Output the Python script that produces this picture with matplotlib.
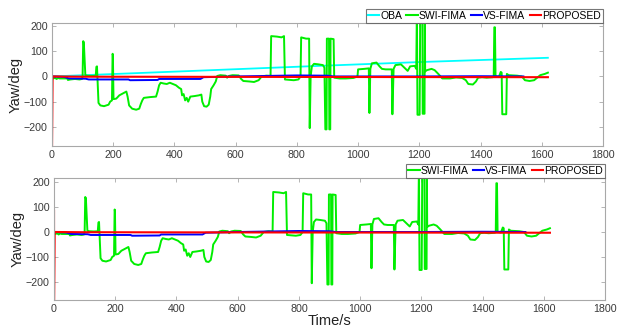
import matplotlib
matplotlib.use("Agg")
import matplotlib.pyplot as plt

# time (s) / yaw (deg) samples
swi_t = [0, 5, 10, 15, 20, 25, 50, 52, 60, 75, 90, 98, 100, 102, 104, 107, 109, 115, 130,
         143, 145, 147, 149, 152, 158, 170, 185, 190, 196, 198, 199, 201, 210, 220, 235, 243,
         247, 252, 262, 275, 285, 290, 295, 300, 320, 340, 345, 350, 355, 365, 375, 385, 395,
         405, 415, 422, 425, 430, 435, 440, 445, 452, 465, 480, 488, 491, 497, 505, 512, 517,
         520, 528, 535, 540, 550, 568, 572, 578, 590, 610, 618, 625, 645, 660, 675, 685, 700,
         714, 716, 735, 750, 758, 761, 790, 805, 812, 814, 830, 840, 842, 845, 849, 856, 870,
         885, 890, 893, 897, 898, 905, 906, 909, 910, 920, 922, 940, 960, 985, 998, 1000, 1020,
         1035, 1037, 1040, 1045, 1060, 1070, 1078, 1090, 1110, 1112, 1116, 1122, 1140, 1155,
         1162, 1170, 1185, 1190, 1192, 1194, 1201, 1203, 1210, 1211, 1217, 1218, 1219, 1225,
         1240, 1250, 1262, 1275, 1300, 1320, 1340, 1352, 1360, 1375, 1385, 1392, 1405, 1420,
         1440, 1443, 1445, 1447, 1449, 1460, 1466, 1469, 1471, 1480, 1484, 1486, 1492, 1520,
         1535, 1545, 1560, 1575, 1585, 1595, 1610, 1620]
swi_v = [-3, -8, -5, -10, -6, -8, -8, -14, -12, -10, -12, -10, 0, 140, 135, 60, 5, 3, 2,
         3, 38, 40, -20, -105, -115, -118, -112, -100, -95, 90, 85, -90, -88, -75, -65, -60,
         -80, -115, -128, -132, -128, -110, -95, -85, -82, -80, -60, -35, -25, -28, -30, -25, -30,
         -35, -45, -50, -75, -70, -95, -85, -100, -80, -78, -75, -72, -100, -118, -120, -112, -80,
         -50, -35, -20, 2, 5, 3, -5, 2, 5, 4, -10, -18, -20, -22, -15, 0, 3,
         2, 160, 158, 155, 160, -12, -15, -12, 0, 155, 150, 150, -205, 0, 40, 50, 48,
         45, 35, -210, -210, 150, 150, -210, -210, 150, 148, -5, -8, -8, -6, 0, 28, 30,
         32, -145, 30, 52, 55, 40, 30, 28, 28, -150, 30, 45, 48, 30,
         22, 40, 42, 30, 260, -152, -152, 260, 260, -148, -148, 260, 20, 25,
         30, 25, 10, -8, -8, -4, -6, -15, -30, -32, -20, -5, -3, -5,
         -3, 0, 195, 195, 0, -2, 18, 15, -150, -150, -150, 10, 5, 3,
         0, -15, -18, -15, -5, 5, 10, 15]

oba_t = [0, 420, 875, 1200, 1620]
oba_v = [0, 20, 42, 57, 74]

vs_t = [0, 40, 55, 110, 120, 250, 255, 345, 350, 485, 495, 600, 700, 800, 900, 920, 1000,
        1200, 1400, 1540]
vs_v = [0, -2, -8, -9, -12, -12, -15, -14, -10, -10, -3, 0, 2, 4, 3, 0, 0, 0, 1, 0]

prop_t = [0, 0, 2, 100, 800, 1620]
prop_v = [85, -300, 0, -1, -2, -3]

x_ticks = [0, 200, 400, 600, 800, 1000, 1200, 1400, 1600, 1800]
y_ticks = [-200, -100, 0, 100, 200]

plt.rcParams["font.family"] = ["Liberation Sans", "DejaVu Sans"]

fig = plt.figure(figsize=(6.21, 3.31), dpi=100)
fig.patch.set_facecolor("white")

ax1 = fig.add_axes([0.0837, 0.5589, 0.8873, 0.3716])
ax2 = fig.add_axes([0.0870, 0.0937, 0.8873, 0.3686])

spine_grey = "#a8a8a8"


def style_axes(ax, ylim):
    ax.set_xlim(0, 1800)
    ax.set_ylim(*ylim)
    ax.set_xticks(x_ticks)
    ax.set_yticks(y_ticks)
    ax.tick_params(direction="in", top=True, right=True, length=3, width=0.6,
                   color=spine_grey, labelcolor="#3a3a3a", labelsize=7.7, pad=3)
    for s in ax.spines.values():
        s.set_color(spine_grey)
        s.set_linewidth(0.8)
    ax.set_ylabel("Yaw/deg", fontsize=10.5, color="#222222", labelpad=1)


ax1.plot(oba_t, oba_v, color="#00ffff", lw=1.3, label="OBA")
for ax in (ax1, ax2):
    ax.plot(swi_t, swi_v, color="#00ee00", lw=1.4, label="SWI-FIMA")
    ax.plot(vs_t, vs_v, color="#0000ff", lw=1.4, label="VS-FIMA")
    ax.plot(prop_t, prop_v, color="#ff0000", lw=1.5, label="PROPOSED")

style_axes(ax1, (-276, 212))
style_axes(ax2, (-272, 216))
ax2.set_xlabel("Time/s", fontsize=10.5, color="#222222", labelpad=0)

for ax in (ax1, ax2):
    leg = ax.legend(loc="lower right", bbox_to_anchor=(1.0, 1.0), ncol=4, fontsize=7.5,
                    frameon=True, fancybox=False, handlelength=1.1, handletextpad=0.1,
                    columnspacing=0.4, borderpad=0.2, borderaxespad=0.0)
    leg.get_frame().set_edgecolor("#555555")
    leg.get_frame().set_linewidth(0.8)
    for h in leg.get_lines():
        h.set_linewidth(1.5)

fig.savefig("out.png", dpi=100, facecolor="white")
